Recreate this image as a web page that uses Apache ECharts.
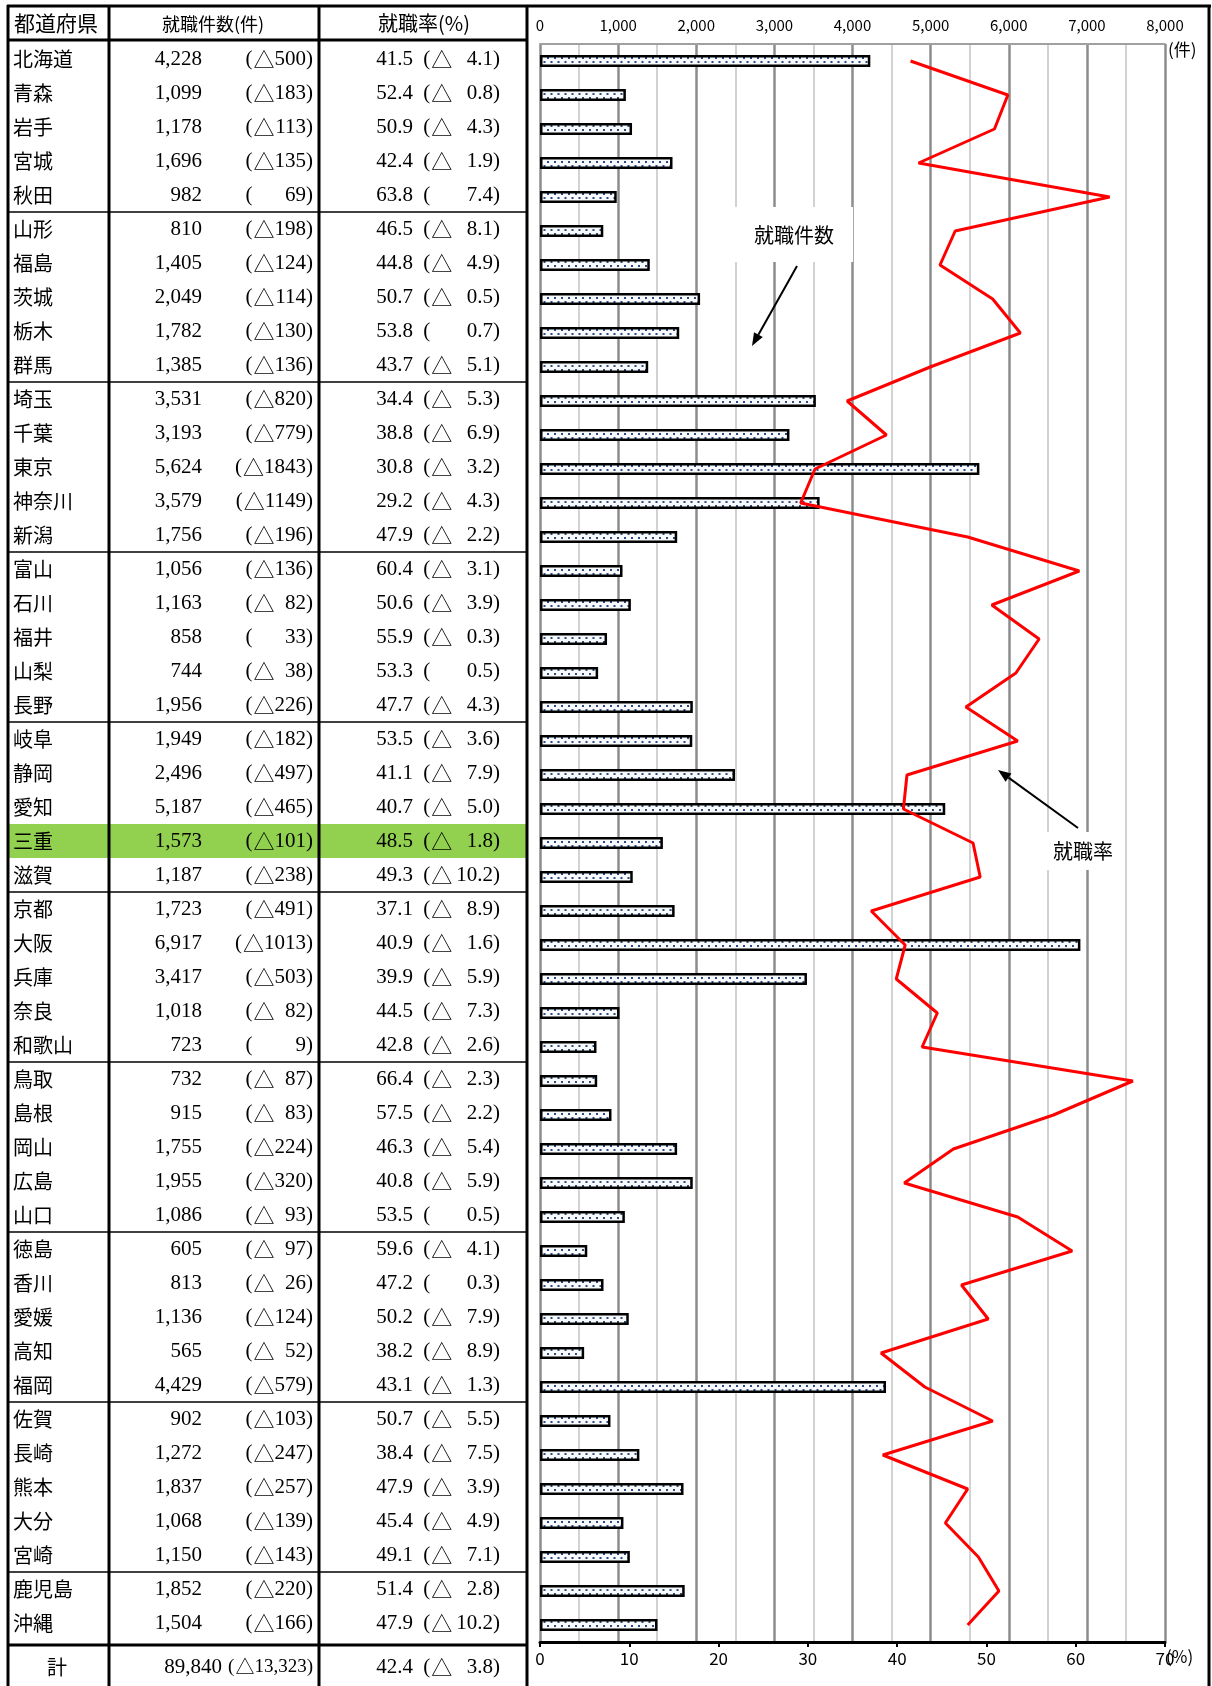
<!DOCTYPE html>
<html><head><meta charset="utf-8">
<script src="https://cdn.jsdelivr.net/npm/echarts@6/dist/echarts.min.js"></script>
<style>html,body{margin:0;padding:0;background:#fff}#main{width:1212px;height:1686px}</style>
</head><body><div id="main"></div>
<script>
// ---------- data ----------
const prefectures = ['北海道','青森','岩手','宮城','秋田','山形','福島','茨城','栃木','群馬','埼玉','千葉','東京','神奈川','新潟','富山','石川','福井','山梨','長野','岐阜','静岡','愛知','三重','滋賀','京都','大阪','兵庫','奈良','和歌山','鳥取','島根','岡山','広島','山口','徳島','香川','愛媛','高知','福岡','佐賀','長崎','熊本','大分','宮崎','鹿児島','沖縄'];
const jobCounts = [4228,1099,1178,1696,982,810,1405,2049,1782,1385,3531,3193,5624,3579,1756,1056,1163,858,744,1956,1949,2496,5187,1573,1187,1723,6917,3417,1018,723,732,915,1755,1955,1086,605,813,1136,565,4429,902,1272,1837,1068,1150,1852,1504];
const jobCountChanges = [-500,-183,-113,-135,69,-198,-124,-114,-130,-136,-820,-779,-1843,-1149,-196,-136,-82,33,-38,-226,-182,-497,-465,-101,-238,-491,-1013,-503,-82,9,-87,-83,-224,-320,-93,-97,-26,-124,-52,-579,-103,-247,-257,-139,-143,-220,-166];
const jobRates = [41.5,52.4,50.9,42.4,63.8,46.5,44.8,50.7,53.8,43.7,34.4,38.8,30.8,29.2,47.9,60.4,50.6,55.9,53.3,47.7,53.5,41.1,40.7,48.5,49.3,37.1,40.9,39.9,44.5,42.8,66.4,57.5,46.3,40.8,53.5,59.6,47.2,50.2,38.2,43.1,50.7,38.4,47.9,45.4,49.1,51.4,47.9];
const jobRateChanges = [-4.1,-0.8,-4.3,-1.9,7.4,-8.1,-4.9,-0.5,0.7,-5.1,-5.3,-6.9,-3.2,-4.3,-2.2,-3.1,-3.9,-0.3,0.5,-4.3,-3.6,-7.9,-5.0,-1.8,-10.2,-8.9,-1.6,-5.9,-7.3,-2.6,-2.3,-2.2,-5.4,-5.9,0.5,-4.1,0.3,-7.9,-8.9,-1.3,-5.5,-7.5,-3.9,-4.9,-7.1,-2.8,-10.2];
const totalLabel = '計';
const totalCount = 89840;
const totalCountChange = -13323;
const totalRate = 42.4;
const totalRateChange = -3.8;
const headerLabels = ['都道府県','就職件数(件)','就職率(%)'];
const countAxis = {min: 0, max: 8000, interval: 1000};
const rateAxis = {min: 0, max: 70, interval: 10};
const groupStarts = [5,10,15,20,25,30,35,40,45];
const highlightIndex = 23;
const annotationCount = '就職件数';
const annotationRate = '就職率';
const unitCount = '(件)';
const unitRate = '(%)';

// ---------- fonts / helpers ----------
const JP = "'Noto Sans CJK JP', sans-serif";
const SERIF = "'Liberation Serif', 'Noto Sans CJK JP', serif";
const mctx = document.createElement('canvas').getContext('2d');
function tw(text, size, fam){ mctx.font = size + 'px ' + fam; return mctx.measureText(text).width; }
const fmt = v => v.toLocaleString('en-US');

// dotted fill pattern
const pat = document.createElement('canvas'); pat.width = 7; pat.height = 8;
const pc = pat.getContext('2d');
pc.fillStyle = '#f8fafd'; pc.fillRect(0,0,7,8);
pc.fillStyle = '#2b4a7e';
pc.fillRect(1,1,2,2); pc.fillRect(4.5,5,2,2);

const chart = echarts.init(document.getElementById('main'), null, {renderer: 'canvas'});
chart.setOption({
  animation: false,
  backgroundColor: '#fff',
  grid: {left: 540, right: 47, top: 44, bottom: 44, containLabel: false},
  xAxis: [
    {type: 'value', position: 'top', min: countAxis.min, max: countAxis.max, interval: countAxis.interval,
     axisLine: {show: true, lineStyle: {color: '#a0a0a0', width: 2}},
     axisTick: {show: false},
     axisLabel: {margin: 11, fontSize: 15, color: '#000', fontFamily: JP, formatter: v => fmt(v)},
     splitLine: {show: true, lineStyle: {color: '#8c8c8c', width: 2.5}},
     minorTick: {show: false, splitNumber: 2},
     minorSplitLine: {show: true, lineStyle: {color: '#c4c4c4', width: 1.5}}},
    {type: 'value', position: 'bottom', min: rateAxis.min, max: rateAxis.max, interval: rateAxis.interval,
     axisLine: {show: true, onZero: false, lineStyle: {color: '#000', width: 3}},
     axisTick: {show: true, length: 5, lineStyle: {color: '#000', width: 2}},
     axisLabel: {margin: 8, fontSize: 17, color: '#000', fontFamily: JP},
     splitLine: {show: false}}
  ],
  yAxis: {type: 'category', inverse: true, data: prefectures, z: 5,
    axisLine: {show: false}, axisTick: {show: false}, splitLine: {show: false},
    axisLabel: {interval: 0, align: 'left', verticalAlign: 'bottom', lineHeight: 4, margin: 527, fontSize: 20, color: '#000', fontFamily: JP}},
  series: [
    {type: 'bar', xAxisIndex: 0, yAxisIndex: 0, data: jobCounts, barWidth: 12, z: 3,
     itemStyle: {color: {image: pat, repeat: 'repeat'}, borderColor: '#000', borderWidth: 2.5}},
    {type: 'line', xAxisIndex: 1, yAxisIndex: 0, data: jobRates, symbol: 'none', z: 4,
     lineStyle: {color: '#ff0000', width: 3}}
  ]
});

// ---------- table & annotations as graphic ----------
const yPix = i => chart.convertToPixel({yAxisIndex: 0}, i);
const band = yPix(1) - yPix(0);
const off = -2;
const g = [];
const hl = (y1, y2) => ({type: 'line', z: 10, shape: {x1: 7, y1: y1, x2: 527, y2: y2}, style: {stroke: '#000', lineWidth: 1.5}});

// highlight
g.push({type: 'rect', z: 1, shape: {x: 8, y: yPix(highlightIndex) - band/2 + off, width: 519, height: band}, style: {fill: '#92d050'}});

// frame
[8, 109, 319, 527, 1209].forEach(x => g.push({type: 'line', z: 10, shape: {x1: x, y1: 5, x2: x, y2: 1686}, style: {stroke: '#000', lineWidth: 3}}));
g.push({type: 'line', z: 10, shape: {x1: 7, y1: 6, x2: 1211, y2: 6}, style: {stroke: '#000', lineWidth: 3}});
g.push({type: 'line', z: 10, shape: {x1: 7, y1: 40, x2: 527, y2: 40}, style: {stroke: '#000', lineWidth: 3}});
g.push({type: 'line', z: 10, shape: {x1: 7, y1: 1645, x2: 527, y2: 1645}, style: {stroke: '#000', lineWidth: 3}});
groupStarts.forEach(k => { const y = (yPix(k-1) + yPix(k)) / 2 + off; g.push(hl(y, y)); });

// header
g.push({type: 'text', z: 10, style: {text: headerLabels[0], x: 14, y: 23, align: 'left', verticalAlign: 'middle', fontSize: 21, fontFamily: JP, fill: '#000'}});
g.push({type: 'text', z: 10, style: {text: headerLabels[1], x: 213, y: 24, align: 'center', verticalAlign: 'middle', fontSize: 18, fontFamily: JP, fill: '#000'}});
g.push({type: 'text', z: 10, style: {text: headerLabels[2], x: 424, y: 23, align: 'center', verticalAlign: 'middle', fontSize: 20, fontFamily: JP, fill: '#000'}});

const SZ = 21;
const wCountB = tw('000)', SZ, SERIF);
const wRateB = tw('00.0)', SZ, SERIF) + 4;
function deltaCell(v, xRight, y, size, minB, decimals, comma) {
  const neg = v < 0;
  const a = Math.abs(v);
  const body = (decimals ? a.toFixed(decimals) : (comma ? fmt(a) : String(a))) + ')';
  const wb = Math.max(minB, tw(body, size, SERIF));
  return {type: 'text', z: 10, style: {
    text: '{a|(}{t|' + (neg ? '△' : ' ') + '}{b|' + body + '}',
    x: xRight, y: y, align: 'right', verticalAlign: 'middle', fill: '#000',
    rich: {
      a: {fontSize: size, fontFamily: SERIF},
      t: {fontSize: size, fontFamily: JP, width: size + 1},
      b: {fontSize: size, fontFamily: SERIF, width: wb, align: 'right'}
    }}};
}
function rowCells(y, count, cChg, rate, rChg, countRight, cSize, comma) {
  g.push({type: 'text', z: 10, style: {text: fmt(count), x: countRight, y: y, align: 'right', verticalAlign: 'middle', fontSize: SZ, fontFamily: SERIF, fill: '#000'}});
  g.push(deltaCell(cChg, 313, y, cSize, cSize === SZ ? wCountB : 0, 0, comma));
  g.push({type: 'text', z: 10, style: {text: rate.toFixed(1), x: 413, y: y, align: 'right', verticalAlign: 'middle', fontSize: SZ, fontFamily: SERIF, fill: '#000'}});
  g.push(deltaCell(rChg, 500, y, SZ, wRateB, 1, false));
}
prefectures.forEach((p, i) => rowCells(yPix(i) + off, jobCounts[i], jobCountChanges[i], jobRates[i], jobRateChanges[i], 202, SZ, false));
// total row
const ty = 1667;
g.push({type: 'text', z: 10, style: {text: totalLabel, x: 57, y: ty, align: 'center', verticalAlign: 'middle', fontSize: 20, fontFamily: JP, fill: '#000'}});
rowCells(ty, totalCount, totalCountChange, totalRate, totalRateChange, 222, 19, true);

// units
g.push({type: 'text', z: 10, style: {text: unitCount, x: 1168, y: 50, align: 'left', verticalAlign: 'middle', fontSize: 17, fontFamily: JP, fill: '#000'}});
g.push({type: 'text', z: 10, style: {text: unitRate, x: 1166, y: 1657, align: 'left', verticalAlign: 'middle', fontSize: 17, fontFamily: JP, fill: '#000'}});

// annotations
function arrow(x1, y1, x2, y2) {
  const a = Math.atan2(y2 - y1, x2 - x1), L = 13, W = 5;
  const bx = x2 - L * Math.cos(a), by = y2 - L * Math.sin(a);
  g.push({type: 'line', z: 21, shape: {x1: x1, y1: y1, x2: bx, y2: by}, style: {stroke: '#000', lineWidth: 2}});
  g.push({type: 'polygon', z: 21, shape: {points: [[x2, y2], [bx + W * Math.sin(a), by - W * Math.cos(a)], [bx - W * Math.sin(a), by + W * Math.cos(a)]]}, style: {fill: '#000'}});
}
g.push({type: 'rect', z: 20, shape: {x: 735, y: 207, width: 118, height: 55}, style: {fill: '#fff'}});
g.push({type: 'text', z: 21, style: {text: annotationCount, x: 794, y: 235, align: 'center', verticalAlign: 'middle', fontSize: 20, fontFamily: JP, fill: '#000'}});
arrow(797, 266, 752, 346);
g.push({type: 'rect', z: 20, shape: {x: 1046, y: 832, width: 74, height: 38}, style: {fill: '#fff'}});
g.push({type: 'text', z: 21, style: {text: annotationRate, x: 1083, y: 851, align: 'center', verticalAlign: 'middle', fontSize: 20, fontFamily: JP, fill: '#000'}});
arrow(1078, 828, 998, 770);

chart.setOption({graphic: {elements: g}});
</script>
</body></html>
